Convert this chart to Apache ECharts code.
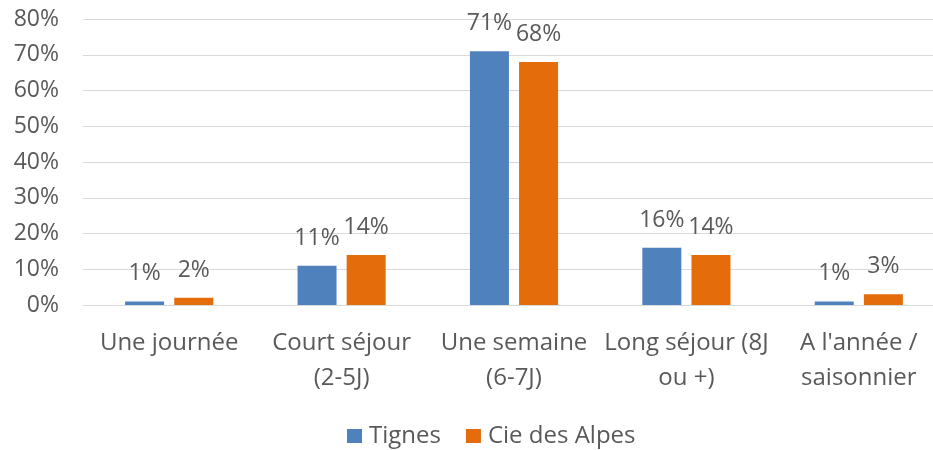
<!DOCTYPE html>
<html>
<head>
<meta charset="utf-8">
<script src="https://cdn.jsdelivr.net/npm/echarts@6/dist/echarts.min.js"></script>
<style>
  html, body { margin: 0; padding: 0; background: #fff; }
  #chart { width: 933px; height: 450px; }
</style>
</head>
<body>
<div id="chart"></div>
<script>
// catégories et valeurs (en %)
let categories = ['Une journée', 'Court séjour\n(2-5J)', 'Une semaine\n(6-7J)', 'Long séjour (8J\nou +)', "A l'année /\nsaisonnier"];
let tignes = [1, 11, 71, 16, 1];
let cieAlpes = [2, 14, 68, 14, 3];
let yTicks = [0, 10, 20, 30, 40, 50, 60, 70, 80];

let font = '"Open Sans", Lato, sans-serif';
let textColor = '#595959';

let myChart = echarts.init(document.getElementById('chart'));

let labelStyle = {
    show: true,
    position: 'top',
    distance: 16,
    formatter: '{c}%',
    color: textColor,
    fontFamily: font,
    fontSize: 23
};

let option = {
    animation: false,
    textStyle: { fontFamily: font },
    grid: {
        left: 83,
        width: 862,
        top: 19,
        bottom: 145,
        containLabel: false,
        outerBoundsMode: 'none'
    },
    legend: {
        top: 419,
        left: 342,
        itemWidth: 15,
        itemHeight: 14,
        itemGap: 25,
        icon: 'rect',
        textStyle: { color: textColor, fontSize: 24, fontFamily: font, padding: [0, 0, 0, 2] },
        data: ['Tignes', 'Cie des Alpes']
    },
    xAxis: {
        type: 'category',
        data: categories,
        axisLine: { show: true, lineStyle: { color: '#d9d9d9', width: 1 } },
        axisTick: { show: false },
        axisLabel: {
            color: textColor,
            fontSize: 24,
            fontFamily: font,
            margin: 21,
            lineHeight: 35,
            interval: 0
        }
    },
    yAxis: {
        type: 'value',
        min: yTicks[0],
        max: yTicks[yTicks.length - 1],
        interval: 10,
        axisLine: { show: false },
        axisTick: { show: false },
        splitLine: { lineStyle: { color: '#d9d9d9', width: 1 } },
        axisLabel: {
            formatter: '{value}%',
            color: textColor,
            fontSize: 23,
            fontFamily: font,
            margin: 24
        }
    },
    series: [
        {
            name: 'Tignes',
            type: 'bar',
            data: tignes,
            barWidth: 39,
            barGap: '26%',
            itemStyle: { color: '#4F81BD' },
            label: labelStyle
        },
        {
            name: 'Cie des Alpes',
            type: 'bar',
            data: cieAlpes,
            barWidth: 39,
            barGap: '26%',
            itemStyle: { color: '#E46C0A' },
            label: labelStyle
        }
    ]
};

myChart.setOption(option);
</script>
</body>
</html>
